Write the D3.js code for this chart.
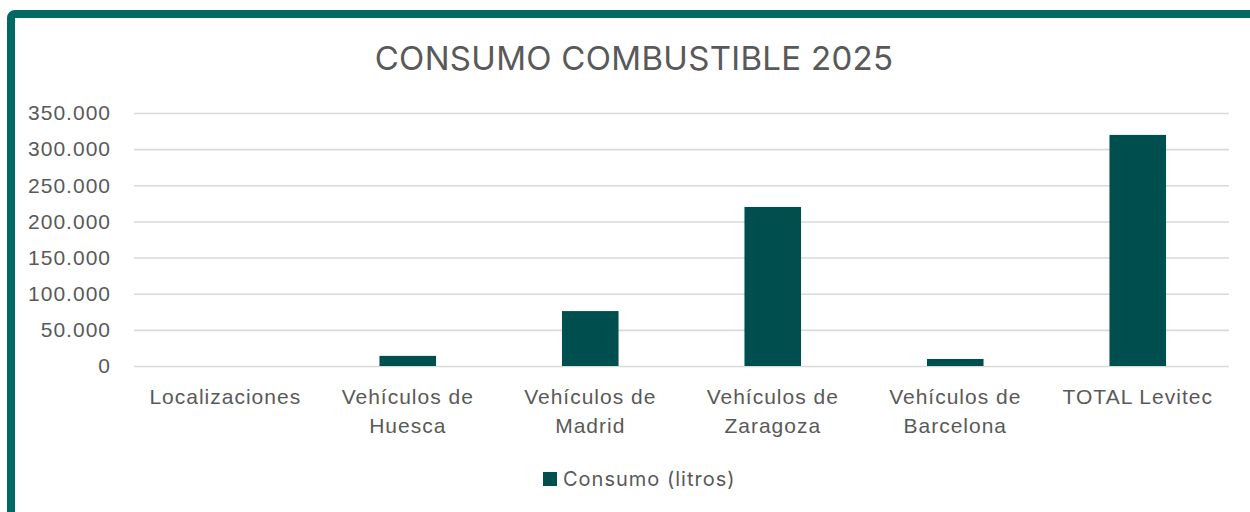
<!DOCTYPE html>
<html>
<head>
<meta charset="utf-8">
<script src="https://cdn.jsdelivr.net/npm/d3@7"></script>
<style>
  body { margin: 0; background: #fff; }
  svg { display: block; font-family: Inter, "Noto Sans", sans-serif; }
  .grid line { stroke: #d9d9d9; stroke-width: 1.6; }
  .grid .domain { display: none; }
  .axis text { fill: #595959; font-size: 21px; letter-spacing: 1px; }
  .axis .domain, .axis line { display: none; }
  .title { fill: #595959; font-size: 33px; letter-spacing: 0.3px; }
  .legend-label { fill: #595959; font-size: 20px; letter-spacing: 1px; }
</style>
</head>
<body>
<svg id="chart" width="1250" height="512"></svg>
<script>
const categories = ['Localizaciones', 'Vehículos de Huesca', 'Vehículos de Madrid', 'Vehículos de Zaragoza', 'Vehículos de Barcelona', 'TOTAL Levitec'];
const consumo = [0, 14000, 76000, 220000, 9700, 319700];
const yTicks = [0, 50000, 100000, 150000, 200000, 250000, 300000, 350000];
const seriesName = 'Consumo (litros)';
const title = 'CONSUMO COMBUSTIBLE 2025';

const margin = {top: 113, right: 21, bottom: 146, left: 134};
const W = 1250, H = 512;
const width = W - margin.left - margin.right;
const height = H - margin.top - margin.bottom;

const svg = d3.select('#chart');

// frame
svg.append('rect')
  .attr('x', 11).attr('y', 14)
  .attr('width', 1300).attr('height', 600)
  .attr('rx', 4)
  .attr('fill', '#fff')
  .attr('stroke', '#006966')
  .attr('stroke-width', 8);

svg.append('text')
  .attr('class', 'title')
  .attr('x', 634).attr('y', 70)
  .attr('text-anchor', 'middle')
  .text(title);

const g = svg.append('g').attr('transform', `translate(${margin.left},${margin.top})`);

const x = d3.scaleBand().domain(categories).range([0, width]).paddingInner(0.69).paddingOuter(0.345);
const y = d3.scaleLinear().domain([0, 350000]).range([height, 0]);

g.append('g').attr('class', 'grid')
  .call(d3.axisLeft(y).tickValues(yTicks).tickSize(-width).tickFormat(''));

g.append('g').attr('class', 'axis y-axis')
  .call(d3.axisLeft(y).tickValues(yTicks).tickSize(0).tickPadding(23)
    .tickFormat(d => d3.format(',')(d).replace(/,/g, '.')));

g.selectAll('.bar')
  .data(consumo)
  .enter().append('rect')
  .attr('class', 'bar')
  .attr('x', (d, i) => x(categories[i]))
  .attr('width', x.bandwidth())
  .attr('y', d => y(d))
  .attr('height', d => height - y(d))
  .attr('fill', '#004f4f');

const xAxis = g.append('g').attr('class', 'axis x-axis')
  .attr('transform', `translate(0,${height})`)
  .call(d3.axisBottom(x).tickSize(0).tickPadding(0).tickFormat(''));

// wrapped category labels
xAxis.selectAll('.tick').each(function(d) {
  const t = d3.select(this).append('text')
    .attr('text-anchor', 'middle')
    .attr('fill', '#595959');
  let lines = [d];
  if (d.startsWith('Vehículos de ')) lines = ['Vehículos de', d.slice(13)];
  lines.forEach((l, i) => {
    t.append('tspan').attr('x', 0).attr('y', 38 + i * 29).text(l);
  });
});

// legend
const legend = svg.append('g').attr('transform', 'translate(543,472)');
legend.append('rect').attr('width', 14).attr('height', 14).attr('fill', '#004f4f');
legend.append('text').attr('class', 'legend-label')
  .attr('x', 20).attr('y', 14).text(seriesName);
</script>
</body>
</html>
